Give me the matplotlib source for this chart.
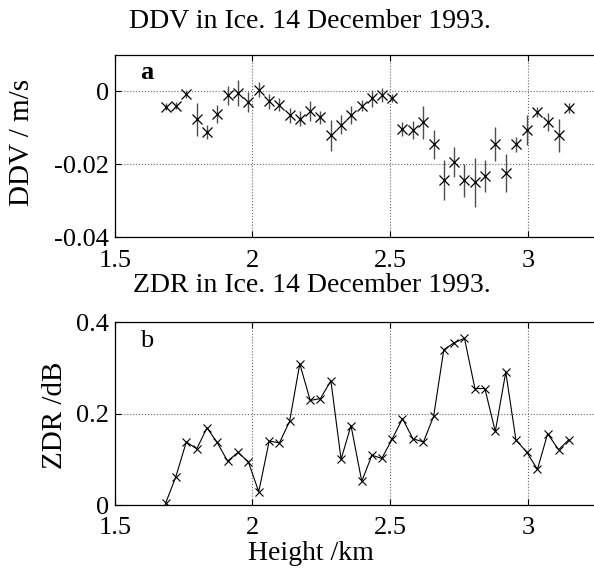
import matplotlib.pyplot as plt

plt.rcParams['font.family'] = ['Liberation Serif', 'DejaVu Serif']
plt.rcParams['axes.unicode_minus'] = False

# heights (km), shared by both panels
height = [1.685, 1.722, 1.760, 1.798, 1.835, 1.872, 1.910, 1.947, 1.985, 2.023,
          2.061, 2.098, 2.135, 2.172, 2.210, 2.247, 2.285, 2.322, 2.358, 2.397,
          2.434, 2.470, 2.507, 2.545, 2.583, 2.621, 2.658, 2.695, 2.732, 2.770,
          2.808, 2.844, 2.882, 2.920, 2.957, 2.996, 3.035, 3.072, 3.112, 3.149]

# DDV (m/s) and its error
ddv = [-0.0042, -0.0039, -0.0007, -0.0077, -0.0111, -0.0062, -0.0010, -0.0005, -0.0030, 0.0005,
       -0.0027, -0.0036, -0.0066, -0.0075, -0.0053, -0.0071, -0.0121, -0.0091, -0.0065, -0.0039,
       -0.0019, -0.0010, -0.0018, -0.0103, -0.0105, -0.0085, -0.0145, -0.0244, -0.0194, -0.0244,
       -0.0250, -0.0232, -0.0145, -0.0223, -0.0145, -0.0105, -0.0057, -0.0085, -0.0121, -0.0046]
ddv_err = [0.0010, 0.0010, 0.0010, 0.0046, 0.0020, 0.0025, 0.0026, 0.0035, 0.0027, 0.0020,
           0.0020, 0.0018, 0.0020, 0.0020, 0.0027, 0.0018, 0.0043, 0.0025, 0.0024, 0.0016,
           0.0023, 0.0018, 0.0012, 0.0020, 0.0025, 0.0045, 0.0040, 0.0055, 0.0041, 0.0045,
           0.0068, 0.0044, 0.0046, 0.0052, 0.0021, 0.0041, 0.0014, 0.0025, 0.0045, 0.0013]

# ZDR (dB)
zdr = [0.004, 0.062, 0.138, 0.123, 0.169, 0.137, 0.096, 0.115, 0.095, 0.029,
       0.140, 0.136, 0.183, 0.309, 0.229, 0.233, 0.272, 0.100, 0.174, 0.052,
       0.109, 0.102, 0.144, 0.189, 0.145, 0.138, 0.194, 0.340, 0.355, 0.365,
       0.255, 0.255, 0.161, 0.291, 0.142, 0.116, 0.078, 0.156, 0.121, 0.143]

W, H = 594, 571
fig = plt.figure(figsize=(W / 100, H / 100), dpi=100)

x0, x1 = 114.7, 600.0
ppu = 275.4  # pixels per km
xmax = 1.5 + (x1 - x0) / ppu
aw = x1 - x0

ax1 = fig.add_axes([x0 / W, 1 - 237 / H, aw / W, (237 - 55) / H])
ax2 = fig.add_axes([x0 / W, 1 - 505 / H, aw / W, (505 - 322.3) / H])

# panel a
ax1.errorbar(height, ddv, yerr=ddv_err, fmt='none', ecolor='0.3', elinewidth=1.0, capsize=0)
ax1.plot(height, ddv, 'x', color='black', ms=6.5, mew=0.9)
ax1.set_ylim(-0.04, 0.01)
ax1.set_yticks([-0.04, -0.02, 0])
ax1.set_yticklabels(['-0.04', '-0.02', '0'])
ax1.set_ylabel('DDV / m/s', fontsize=21)
ax1.yaxis.set_label_coords((35 - x0) / aw, 0.52)
ax1.text((147 - x0) / aw, 0.906, 'a', transform=ax1.transAxes, fontsize=19,
         fontweight='bold', ha='center', va='center')

# panel b
ax2.plot(height, zdr, '-x', color='black', lw=0.8, ms=6, mew=0.8)
ax2.set_ylim(0, 0.4)
ax2.set_yticks([0, 0.2, 0.4])
ax2.set_yticklabels(['0', '0.2', '0.4'])
ax2.set_ylabel('ZDR /dB', fontsize=21)
ax2.yaxis.set_label_coords((68 - x0) / aw, 0.49)
ax2.set_xlabel('Height /km', fontsize=20)
ax2.xaxis.set_label_coords((311 - x0) / aw, (505 - 541) / 182.7)
ax2.text((147 - x0) / aw, 0.898, 'b', transform=ax2.transAxes, fontsize=19,
         ha='center', va='center')

for ax in (ax1, ax2):
    ax.set_xlim(1.5, xmax)
    ax.set_xticks([1.5, 2, 2.5, 3])
    ax.set_xticklabels(['1.5', '2', '2.5', '3'])
    ax.grid(True, linestyle=':', color='0.4', linewidth=0.8)
    ax.tick_params(direction='in', length=4, width=0.8, top=True, right=True,
                   labelsize=19)
    ax.tick_params(axis='x', pad=9)
    ax.tick_params(axis='y', pad=4)
    for s in ax.spines.values():
        s.set_linewidth(0.9)

fig.text(310 / W, 1 - 22 / H, 'DDV in Ice. 14 December 1993.', ha='center', va='center', fontsize=20)
fig.text(312 / W, 1 - 285 / H, 'ZDR in Ice. 14 December 1993.', ha='center', va='center', fontsize=20)

fig.savefig('out.png', dpi=100)
